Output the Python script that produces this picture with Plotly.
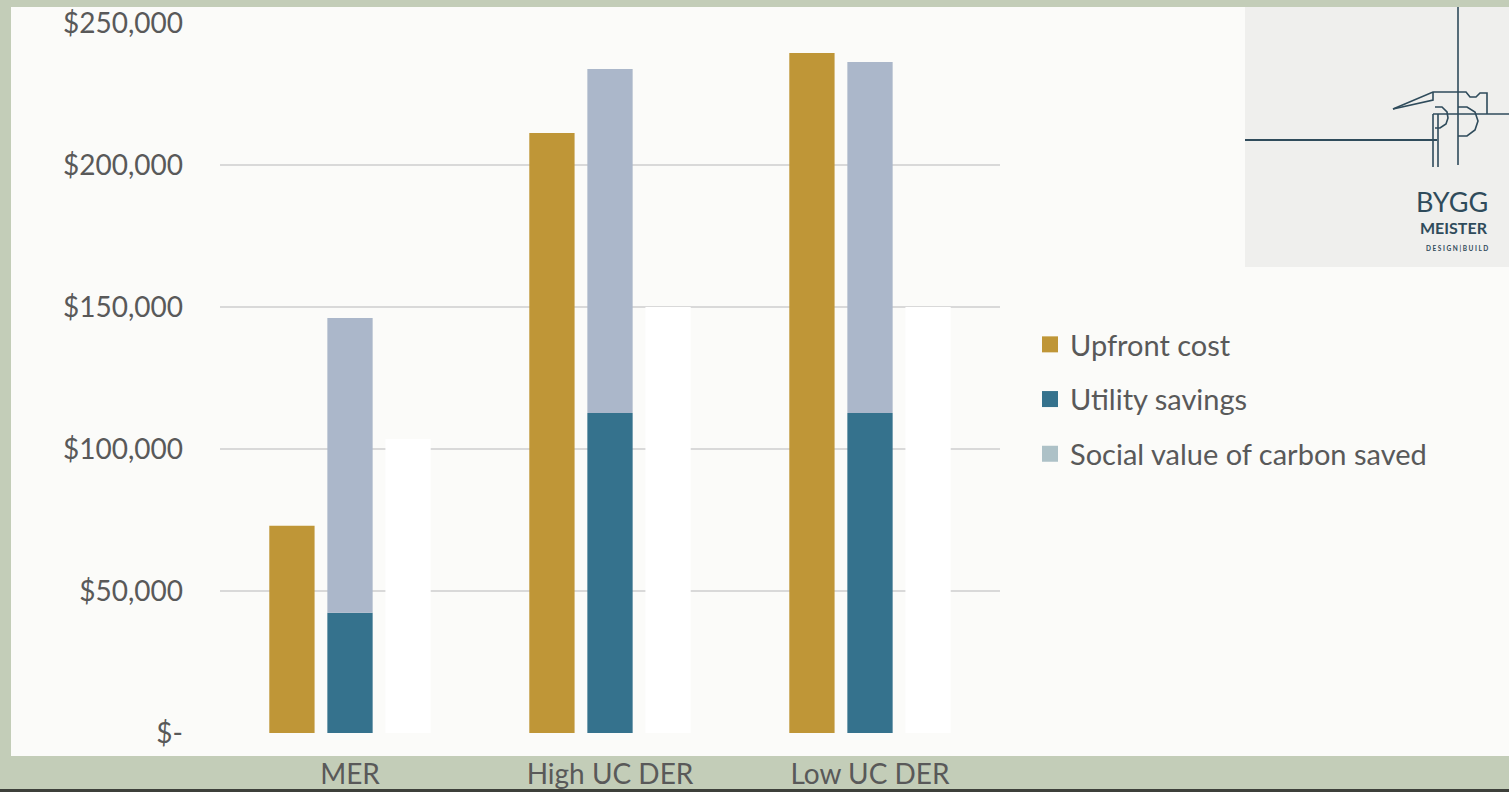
import plotly.graph_objects as go

# ---- data -------------------------------------------------------------
categories = ["MER", "High UC DER", "Low UC DER"]
upfront_cost = [73000, 211300, 239400]
utility_savings = [42300, 112700, 112700]
lifetime_savings_total = [146100, 233800, 236300]
social_value_carbon = [103500, 150000, 150000]
tick_values = [0, 50000, 100000, 150000, 200000, 250000]
tick_labels = ["$-", "$50,000", "$100,000", "$150,000", "$200,000", "$250,000"]

GOLD = "#bf9637"
TEAL = "#35728d"
SLATE = "#abb7ca"
CARBON = "#adc1c7"
TEXT = "#595959"
LOGO = "#2f4b5b"

W, H = 1509, 792
L, R, T, B = 220, 509, 23, 59
PW, PH = W - L - R, H - T - B


def px(x):
    return (x - L) / PW


def py(y):
    return (H - B - y) / PH


fig = go.Figure()

upper_part = [t - u for t, u in zip(lifetime_savings_total, utility_savings)]

fig.add_bar(x=categories, y=upfront_cost, name="Upfront cost", offsetgroup="a",
            marker=dict(color=GOLD, line=dict(width=0)), showlegend=False)
fig.add_bar(x=categories, y=utility_savings, name="Utility savings", offsetgroup="b",
            marker=dict(color=TEAL, line=dict(width=0)), showlegend=False)
fig.add_bar(x=categories, y=upper_part, base=utility_savings, name="Lifetime savings",
            offsetgroup="b", marker=dict(color=SLATE, line=dict(width=0)), showlegend=False)
fig.add_bar(x=categories, y=social_value_carbon, name="Social value of carbon saved",
            offsetgroup="c", marker=dict(color="#ffffff", line=dict(width=0)), showlegend=False)

# legend entries
for i, (nm, col) in enumerate([("Upfront cost", GOLD), ("Utility savings", TEAL),
                               ("Social value of carbon saved", CARBON)]):
    fig.add_scatter(x=[None], y=[None], mode="markers", name=nm, legendgroup=str(i),
                    marker=dict(symbol="square", size=18, color=col))

shapes = []
# slide panel
shapes.append(dict(type="rect", xref="paper", yref="paper", x0=px(11), x1=px(1515),
                   y0=py(756), y1=py(7), fillcolor="#fbfbf9", line=dict(width=0), layer="below"))
# bottom dark band
shapes.append(dict(type="rect", xref="paper", yref="paper", x0=px(-5), x1=px(1515),
                   y0=py(795), y1=py(789), fillcolor="#3d403a", line=dict(width=0), layer="below"))
# logo tile
shapes.append(dict(type="rect", xref="paper", yref="paper", x0=px(1245), x1=px(1515),
                   y0=py(267), y1=py(7), fillcolor="#efefed", line=dict(width=0), layer="below"))


def seg(x0, y0, x1, y1, w=1.6):
    return dict(type="line", xref="paper", yref="paper", x0=px(x0), y0=py(y0),
                x1=px(x1), y1=py(y1), line=dict(color=LOGO, width=w))


shapes += [
    seg(1458, 7, 1458, 165),
    seg(1245, 140, 1437, 140, 2),
    seg(1433, 114, 1509, 114),
    seg(1433, 114, 1433, 167),
    seg(1438, 114, 1438, 167),
]


def path(points, close=False):
    d = "M " + " L ".join(f"{px(x):.5f},{py(y):.5f}" for x, y in points)
    return d + (" Z" if close else "")


# hammer head
shapes.append(dict(type="path", xref="paper", yref="paper",
                   path=path([(1393, 109), (1433, 92), (1458, 92), (1466, 92), (1470, 97),
                              (1476, 97), (1480, 93), (1487, 93), (1487, 114)]),
                   line=dict(color=LOGO, width=1.6)))
shapes.append(dict(type="path", xref="paper", yref="paper",
                   path=path([(1393, 109), (1433, 100), (1433, 92)]),
                   line=dict(color=LOGO, width=1.6)))
# rounded letter bowls
shapes.append(dict(type="path", xref="paper", yref="paper",
                   path=path([(1435, 107), (1442, 107), (1447, 112), (1448, 118), (1446, 124),
                              (1440, 128), (1435, 128)]),
                   line=dict(color=LOGO, width=1.6)))
shapes.append(dict(type="path", xref="paper", yref="paper",
                   path=path([(1458, 107), (1467, 107), (1475, 112), (1478, 121), (1475, 130),
                              (1467, 136), (1458, 136)]),
                   line=dict(color=LOGO, width=1.6)))

annotations = [
    dict(text="BYGG", x=px(1490), y=py(201), xref="paper", yref="paper", xanchor="right",
         yanchor="middle", showarrow=False, font=dict(family="Lato", size=27, color=LOGO)),
    dict(text="<b>MEISTER</b>", x=px(1490), y=py(228), xref="paper", yref="paper",
         xanchor="right", yanchor="middle", showarrow=False,
         font=dict(family="Lato", size=16, color=LOGO)),
    dict(text="<b>D E S I G N | B U I L D</b>", x=px(1490), y=py(248), xref="paper",
         yref="paper", xanchor="right", yanchor="middle", showarrow=False,
         font=dict(family="Lato", size=6.5, color=LOGO)),
]

fig.update_layout(
    width=W, height=H,
    margin=dict(l=L, r=R, t=T, b=B, pad=0, autoexpand=False),
    paper_bgcolor="#c3cdb8",
    plot_bgcolor="rgba(0,0,0,0)",
    barmode="group", bargap=0.33, bargroupgap=0.22,
    font=dict(family="Lato", color=TEXT, size=28),
    shapes=shapes, annotations=annotations,
    legend=dict(x=px(1030), y=py(319), xanchor="left", yanchor="top",
                bgcolor="rgba(0,0,0,0)", font=dict(size=29, color=TEXT),
                tracegroupgap=14, itemsizing="trace"),
    xaxis=dict(showgrid=False, showline=False, ticks="", ticklabelstandoff=22,
               automargin=False, tickfont=dict(size=28, color=TEXT)),
    yaxis=dict(range=[0, 250000], tickvals=tick_values, ticktext=tick_labels,
               showgrid=True, gridcolor="#d9d9d9", gridwidth=2, zeroline=False,
               showline=False, ticks="", ticklabelstandoff=36, automargin=False,
               tickfont=dict(size=28, color=TEXT)),
)

fig.write_html("out.html")
